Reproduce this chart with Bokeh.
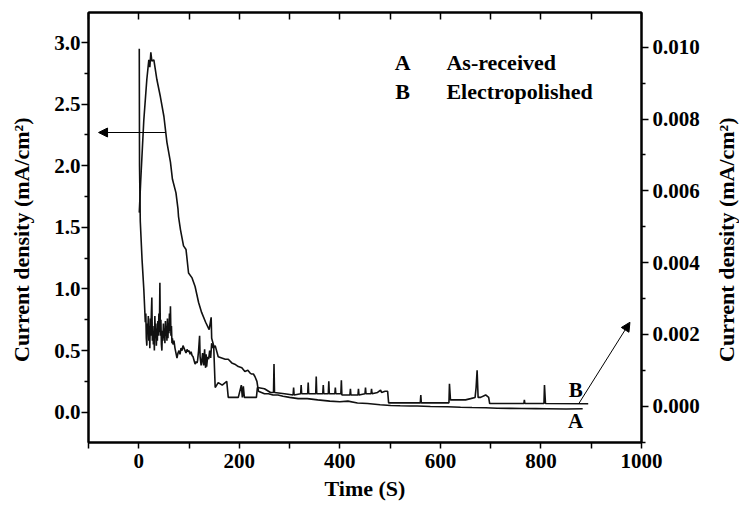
import math
from bokeh.plotting import figure
from bokeh.layouts import row
from bokeh.models import (LinearAxis, Range1d, FixedTicker, Arrow, NormalHead, Label,
                          NumeralTickFormatter, CustomJSTickFormatter, CustomLabelingPolicy)
from bokeh.embed import file_html
from bokeh.resources import INLINE

# Curve A (as-received): time (s) and current density (mA/cm2)
a_time = [1, 1.5, 3, 6.5, 10, 13, 14, 15, 16, 17, 18, 19, 20, 21, 22, 23, 24, 25, 26, 27,
          28, 29, 30, 31, 32, 33, 34, 35, 36, 37, 38, 39, 40, 41, 42, 43, 44, 45, 46, 47,
          48, 49, 50, 51, 52, 53, 54, 55, 56, 57, 58, 59, 60, 61, 62, 63, 64, 65, 66, 67,
          68, 70, 72, 74, 76, 78, 80, 82, 84, 86, 88, 90, 92, 94, 96, 98, 100, 102, 104, 106,
          108, 110, 112, 114, 116, 117, 119, 121, 122, 124, 125, 127, 129, 131, 132, 133, 134, 135, 137, 139,
          141, 143, 145, 148, 152, 158, 165, 172, 178, 185, 191, 198, 205, 211, 217, 221, 224, 228, 231, 235,
          238, 244, 250, 258, 267, 277, 287, 300, 317, 335, 356, 380, 400, 416, 435, 455, 480, 501, 520, 540,
          554, 580, 614, 640, 663, 690, 713, 740, 762, 790, 812, 850, 883]
a_current = [2.95, 2.0, 1.55, 1.24, 1.0, 0.73, 0.80, 0.60, 0.54, 0.72, 0.66, 0.78, 0.58, 0.70, 0.52, 0.76, 0.62, 0.80, 0.93, 0.58,
             0.70, 0.55, 0.66, 0.50, 0.78, 0.60, 0.72, 0.54, 0.68, 0.58, 0.74, 0.62, 0.80, 0.65, 1.05, 0.62, 0.75, 0.55, 0.50, 0.66,
             0.58, 0.72, 0.60, 0.68, 0.56, 0.74, 0.62, 0.70, 0.58, 0.76, 0.60, 0.72, 0.64, 0.80, 0.66, 0.86, 0.62, 0.70, 0.56, 0.60,
             0.55, 0.58, 0.52, 0.48, 0.44, 0.48, 0.50, 0.47, 0.52, 0.50, 0.54, 0.52, 0.50, 0.48, 0.51, 0.49, 0.50, 0.47, 0.49, 0.46,
             0.45, 0.42, 0.39, 0.41, 0.40, 0.42, 0.50, 0.62, 0.45, 0.38, 0.40, 0.48, 0.38, 0.51, 0.40, 0.36, 0.47, 0.37, 0.45, 0.43,
             0.50, 0.44, 0.56, 0.52, 0.54, 0.45, 0.44, 0.43, 0.43, 0.40, 0.39, 0.37, 0.36, 0.33, 0.34, 0.32, 0.31, 0.31, 0.29, 0.25,
             0.17, 0.16, 0.15, 0.15, 0.14, 0.14, 0.13, 0.12, 0.11, 0.11, 0.10, 0.09, 0.085, 0.09, 0.075, 0.07, 0.06, 0.054, 0.052, 0.05,
             0.05, 0.046, 0.044, 0.04, 0.038, 0.036, 0.032, 0.031, 0.03, 0.029, 0.028, 0.026, 0.028]

# Curve B (electropolished): same units
b_time = [1, 4, 10, 16, 20, 22, 24, 26, 30, 36, 43, 50, 56, 63, 67, 74, 78, 79, 83, 89,
          94, 99, 106, 112, 119, 125, 133, 140, 144, 145, 149, 152, 158, 166, 175, 178, 198, 204, 206, 208,
          210, 234, 236, 250, 262, 268, 269, 270, 290, 307, 308, 309, 322, 323, 324, 336, 337, 338, 352, 353,
          354, 366, 367, 368, 377, 378, 379, 390, 391, 392, 402, 403, 404, 420, 421, 422, 436, 437, 438, 450,
          451, 452, 462, 463, 464, 475, 481, 483, 490, 495, 497, 560, 561, 562, 617, 618, 620, 650, 660, 669,
          671, 673, 675, 680, 690, 696, 698, 766, 767, 768, 806, 807, 809, 894]
b_current = [1.62, 1.89, 2.37, 2.70, 2.86, 2.80, 2.92, 2.85, 2.86, 2.70, 2.56, 2.40, 2.19, 2.03, 1.89, 1.78, 1.65, 1.59, 1.48, 1.35,
             1.32, 1.13, 1.09, 1.02, 0.89, 0.81, 0.73, 0.67, 0.77, 0.60, 0.54, 0.20, 0.24, 0.22, 0.25, 0.12, 0.12, 0.22, 0.12, 0.21,
             0.12, 0.12, 0.20, 0.19, 0.16, 0.16, 0.39, 0.16, 0.15, 0.14, 0.20, 0.14, 0.15, 0.22, 0.15, 0.15, 0.24, 0.15, 0.15, 0.29,
             0.15, 0.15, 0.22, 0.15, 0.15, 0.25, 0.15, 0.15, 0.20, 0.15, 0.15, 0.26, 0.14, 0.14, 0.19, 0.14, 0.14, 0.19, 0.14, 0.15,
             0.20, 0.15, 0.15, 0.19, 0.15, 0.16, 0.18, 0.16, 0.17, 0.17, 0.076, 0.076, 0.14, 0.076, 0.076, 0.23, 0.10, 0.10, 0.11, 0.12,
             0.20, 0.34, 0.12, 0.12, 0.14, 0.12, 0.07, 0.07, 0.10, 0.07, 0.07, 0.22, 0.07, 0.068]

x_major = [0, 200, 400, 600, 800, 1000]
x_minor = [-100, 100, 300, 500, 700, 900]
left_major = [0.0, 0.5, 1.0, 1.5, 2.0, 2.5, 3.0]
left_minor = [-0.25, 0.25, 0.75, 1.25, 1.75, 2.25, 2.75]
right_major = [0.0, 0.002, 0.004, 0.006, 0.008, 0.010]
right_minor = [-0.001, 0.001, 0.003, 0.005, 0.007, 0.009]

x_label = "Time (S)"
y_label = "Current density (mA/cm\u00b2)"
legend_keys = ["A", "B"]
legend_names = ["As-received", "Electropolished"]

FONT = "Liberation Serif"
Y0, Y1 = -0.246, 3.244

p = figure(frame_width=553, frame_height=430, x_range=Range1d(-100, 1000), y_range=Range1d(Y0, Y1),
           output_backend="svg", toolbar_location=None,
           min_border_left=48, min_border_right=67, min_border_top=12, min_border_bottom=52)
p.extra_y_ranges = {"right": Range1d(-0.001011, 0.010967)}
p.grid.visible = False
p.outline_line_color = "black"
p.outline_line_width = 2
p.background_fill_color = "white"
p.border_fill_color = "white"

def style(ax, size="21px"):
    ax.axis_line_width = 2
    ax.axis_line_color = "black"
    ax.major_tick_line_width = 1.5
    ax.minor_tick_line_width = 1.5
    ax.major_label_text_font = FONT
    ax.major_label_text_font_style = "bold"
    ax.major_label_text_font_size = size
    ax.major_label_text_color = "black"
    ax.axis_label_text_font = FONT
    ax.axis_label_text_font_style = "bold"
    ax.axis_label_text_font_size = "22px"
    ax.axis_label_text_color = "black"

xb = p.xaxis[0]
xb.ticker = FixedTicker(ticks=x_major, minor_ticks=x_minor)
style(xb)
xb.major_tick_in = 0
xb.major_tick_out = 6
xb.minor_tick_in = 0
xb.minor_tick_out = 6
xb.major_label_standoff = 5
xb.axis_label = x_label
xb.axis_label_standoff = 5

yl = p.yaxis[0]
yl.ticker = FixedTicker(ticks=left_major, minor_ticks=left_minor)
yl.formatter = NumeralTickFormatter(format="0.0")
style(yl)
yl.major_tick_in = 0
yl.major_tick_out = 7
yl.minor_tick_in = 0
yl.minor_tick_out = 4
yl.major_label_standoff = 1

yr = LinearAxis(y_range_name="right", ticker=FixedTicker(ticks=right_major, minor_ticks=right_minor),
                formatter=NumeralTickFormatter(format="0.000"))
style(yr)
yr.major_tick_in = 0
yr.major_tick_out = 7
yr.minor_tick_in = 0
yr.minor_tick_out = 4
yr.major_label_standoff = 4
p.add_layout(yr, "right")

xt = LinearAxis(ticker=FixedTicker(ticks=x_major + x_minor, minor_ticks=[]))
style(xt)
xt.major_tick_in = 7
xt.major_tick_out = 0
xt.formatter = CustomJSTickFormatter(code="return ''")
xt.major_label_policy = CustomLabelingPolicy(code="""
const ids = [...indices]
for (const i of ids) indices.unset(i)
return indices
""")
xt.major_label_text_font_size = "1px"
xt.major_label_standoff = 0
p.add_layout(xt, "above")

p.line(a_time, a_current, line_color="#111111", line_width=1.6)
p.line(b_time, b_current, line_color="#111111", line_width=1.6)

p.add_layout(Arrow(end=NormalHead(size=9, fill_color="black", line_color="black", line_width=1),
                   x_start=53, y_start=2.27, x_end=-80, y_end=2.27, line_width=1, line_color="black"))
p.add_layout(Arrow(end=NormalHead(size=9, fill_color="black", line_color="black", line_width=1),
                   x_start=875, y_start=0.068, x_end=977, y_end=0.73, line_width=1, line_color="black"))

def txt(fig, x, y, s, align="center", size="22px", angle=0.0):
    fig.add_layout(Label(x=x, y=y, text=s, text_font=FONT, text_font_style="bold", text_font_size=size,
                         text_align=align, text_baseline="middle", text_color="black", angle=angle))

txt(p, 525, 2.84, legend_keys[0])
txt(p, 612, 2.84, legend_names[0], "left")
txt(p, 525, 2.60, legend_keys[1])
txt(p, 612, 2.60, legend_names[1], "left")
txt(p, 869, 0.18, "B", size="21px")
txt(p, 869, -0.073, "A", size="21px")

def title_strip(w, xc):
    s = figure(frame_width=w, frame_height=430, x_range=Range1d(0, w), y_range=Range1d(Y0, Y1),
               x_axis_type=None, y_axis_type=None, output_backend="svg", toolbar_location=None,
               min_border_left=0, min_border_right=0, min_border_top=12, min_border_bottom=0)
    s.outline_line_color = None
    s.background_fill_color = "white"
    s.border_fill_color = "white"
    txt(s, xc, 1.40, y_label, angle=math.pi / 2)
    return s

left_title = title_strip(40, 21)
right_title = title_strip(31, 18)

layout = row(left_title, p, right_title)
open("out.html", "w").write(file_html(layout, INLINE))
